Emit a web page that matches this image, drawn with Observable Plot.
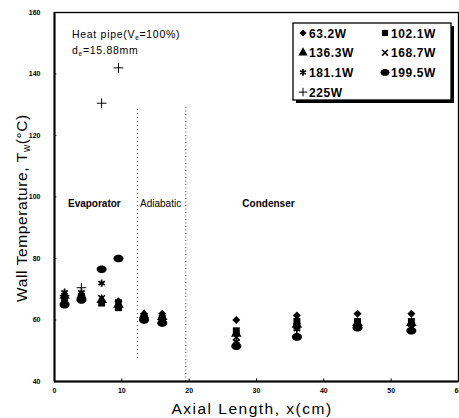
<!DOCTYPE html>
<html><head><meta charset="utf-8">
<script src="https://cdn.jsdelivr.net/npm/d3@7"></script>
<script src="https://cdn.jsdelivr.net/npm/@observablehq/plot@0.6"></script>
<style>
body{margin:0;background:#fff;}
#wrap{width:459px;height:418px;overflow:hidden;}
</style></head><body><div id="wrap"></div>
<script>
// ---- data ----
const positions = [1.5, 4, 7, 9.5, 13.3, 16, 27, 36, 45, 53];   // axial length, cm
const positions225 = [1.5, 4, 7, 9.5];
const t63 = [67, 68, 66, 66, 62, 62, 60, 61.5, 62, 62];
const t102 = [66, 67, 65.5, 64, 61, 60.5, 56.5, 59.5, 59.5, 59.5];
const t136 = [68, 68, 66.5, 65, 61.5, 61, 55.5, 58.5, 59, 59];
const t168 = [67, 67.5, 67, 65.5, 60.5, 60, 54.5, 58, 58.5, 58];
const t181 = [69, 69, 72, 66, 60, 59.5, 53, 57, 58, 57.5];
const t199 = [65, 66.5, 76.5, 80, 60, 59, 51.5, 54.5, 57.5, 56.5];
const t225 = [68, 70.5, 130.5, 142];
const seriesNames = ["63.2W", "102.1W", "136.3W", "168.7W", "181.1W", "199.5W", "225W"];
const xTicks = [0, 10, 20, 30, 40, 50, 60];
const yTicks = [40, 60, 80, 100, 120, 140, 160];
const sectionBounds = [12.3, 19.5];
const boldRegions = [{x: 2.0, label: "Evaporator"}, {x: 27.9, label: "Condenser"}];
const plainRegions = [{x: 12.7, label: "Adiabatic"}];

// ---- table ----
const seriesVals = [t63, t102, t136, t168, t181, t199, t225];
const rows = [];
seriesVals.forEach((vals, i) => {
  const xs = i === 6 ? positions225 : positions;
  vals.forEach((v, j) => rows.push({x: xs[j], T: v, s: seriesNames[i]}));
});

const ellipse = {
  draw(ctx, size) {
    const r = Math.sqrt(size / Math.PI), rx = r * 1.25, ry = r * 0.95, k = 0.5523;
    ctx.moveTo(rx, 0);
    ctx.bezierCurveTo(rx, ry * k, rx * k, ry, 0, ry);
    ctx.bezierCurveTo(-rx * k, ry, -rx, ry * k, -rx, 0);
    ctx.bezierCurveTo(-rx, -ry * k, -rx * k, -ry, 0, -ry);
    ctx.bezierCurveTo(rx * k, -ry, rx, -ry * k, rx, 0);
    ctx.closePath();
  }
};
const styles = {
  "63.2W": {symbol: "diamond2", fill: "#000", r: 3.6},
  "102.1W": {symbol: "square", fill: "#000", r: 3.9},
  "136.3W": {symbol: "triangle", fill: "#000", r: 3.9},
  "168.7W": {symbol: "times", stroke: "#000", r: 3.1, strokeWidth: 1.5},
  "181.1W": {symbol: "asterisk", stroke: "#000", r: 3.5, strokeWidth: 1.7},
  "199.5W": {symbol: ellipse, fill: "#000", r: 4},
  "225W": {symbol: "plus", stroke: "#000", r: 3.2, strokeWidth: 1}
};

const dotMarks = seriesNames.map(name => Plot.dot(rows.filter(d => d.s === name), {x: "x", y: "T", ...styles[name]}));

const font = "'Liberation Sans', Arial, sans-serif";
const plot = Plot.plot({
  width: 459, height: 418,
  marginLeft: 54, marginRight: 1, marginTop: 12, marginBottom: 37,
  style: {fontFamily: font, background: "#fff", overflow: "visible"},
  x: {domain: [0, 60]},
  y: {domain: [40, 160]},
  marks: [
    Plot.ruleX([sectionBounds[0]], {y1: 47.5, y2: 129, stroke: "#444", strokeWidth: 1, strokeDasharray: "1,3"}),
    Plot.ruleX([sectionBounds[1]], {y1: 40, y2: 129, stroke: "#444", strokeWidth: 1, strokeDasharray: "1,2.5"}),
    Plot.axisY({ticks: yTicks, tickSize: 0, tickPadding: 14, fontSize: 7, fontWeight: "bold", label: null}),
    Plot.axisX({ticks: xTicks, tickSize: 0, tickPadding: 7, fontSize: 7, fontWeight: "bold", label: null}),
    Plot.ruleY(yTicks, {x1: 0, x2: 0.35, stroke: "#000", strokeWidth: 1}),
    Plot.ruleX(xTicks, {y1: 40, y2: 40.8, stroke: "#000", strokeWidth: 1}),
    Plot.frame({stroke: "#000", strokeWidth: 1.3}),
    Plot.ruleX([0], {stroke: "#000", strokeWidth: 2}),
    Plot.ruleY([40], {stroke: "#000", strokeWidth: 2}),
    Plot.text(boldRegions, {x: "x", y: 97.8, text: "label", textAnchor: "start", fontSize: 10, fontWeight: "bold", fill: "#000", letterSpacing: "1.1px"}),
    Plot.text(plainRegions, {x: "x", y: 97.8, text: "label", textAnchor: "start", fontSize: 10, fontWeight: "normal", fill: "#000", letterSpacing: "1px"}),
    ...dotMarks
  ]
});
document.getElementById("wrap").appendChild(plot);

const svg = d3.select(plot);
// axis titles
const yt = svg.append("text").attr("transform", "translate(27,208) rotate(-90)")
  .attr("text-anchor", "middle").style("font-family", font).style("font-size", "15.5px").style("letter-spacing", "0.6px");
yt.append("tspan").text("Wall Temperature, T");
yt.append("tspan").attr("dy", 3).style("font-size", "10px").text("w");
yt.append("tspan").attr("dy", -3).text("(°C)");
svg.append("text").attr("x", 252).attr("y", 414).attr("text-anchor", "middle")
  .style("font-family", font).style("font-size", "15.5px").style("letter-spacing", "1.5px").text("Axial Length, x(cm)");

// annotation
const a1 = svg.append("text").attr("x", 72).attr("y", 38).attr("text-anchor", "start").style("font-family", font).style("font-size", "10.5px").style("letter-spacing", "0.7px");
a1.append("tspan").text("Heat pipe(V");
a1.append("tspan").attr("dy", 2).style("font-size", "6.5px").text("e");
a1.append("tspan").attr("dy", -2).text("=100%)");
const a2 = svg.append("text").attr("x", 72).attr("y", 54).attr("text-anchor", "start").style("font-family", font).style("font-size", "10.5px").style("letter-spacing", "0.7px");
a2.append("tspan").text("d");
a2.append("tspan").attr("dy", 2).style("font-size", "6.5px").text("e");
a2.append("tspan").attr("dy", -2).text("=15.88mm");

// legend
const lg = svg.append("g");
lg.append("rect").attr("x", 296).attr("y", 26).attr("width", 158).attr("height", 77).attr("fill", "#000");
lg.append("rect").attr("x", 293).attr("y", 23).attr("width", 158).attr("height", 77).attr("fill", "#fff").attr("stroke", "#000").attr("stroke-width", 1.3);
const symMap = {diamond2: d3.symbolDiamond2, square: d3.symbolSquare, triangle: d3.symbolTriangle, times: d3.symbolTimes, asterisk: d3.symbolAsterisk, plus: d3.symbolPlus};
seriesNames.forEach((name, i) => {
  const col = i % 2, row = Math.floor(i / 2);
  const cx = col === 0 ? 303 : 385, cy = 33 + row * 19.7;
  const st = styles[name];
  const type = typeof st.symbol === "string" ? symMap[st.symbol] : st.symbol;
  const p = d3.symbol(type, Math.PI * st.r * st.r * 0.8)();
  lg.append("path").attr("d", p).attr("transform", `translate(${cx},${cy})`)
    .attr("fill", st.fill || "none").attr("stroke", st.stroke || "none").attr("stroke-width", st.strokeWidth || 0);
  lg.append("text").attr("x", cx + 6).attr("y", cy + 4.5).attr("text-anchor", "start").style("font-family", font).style("font-size", "12px")
    .style("font-weight", "bold").style("letter-spacing", "0.6px").text(name);
});
</script></body></html>
